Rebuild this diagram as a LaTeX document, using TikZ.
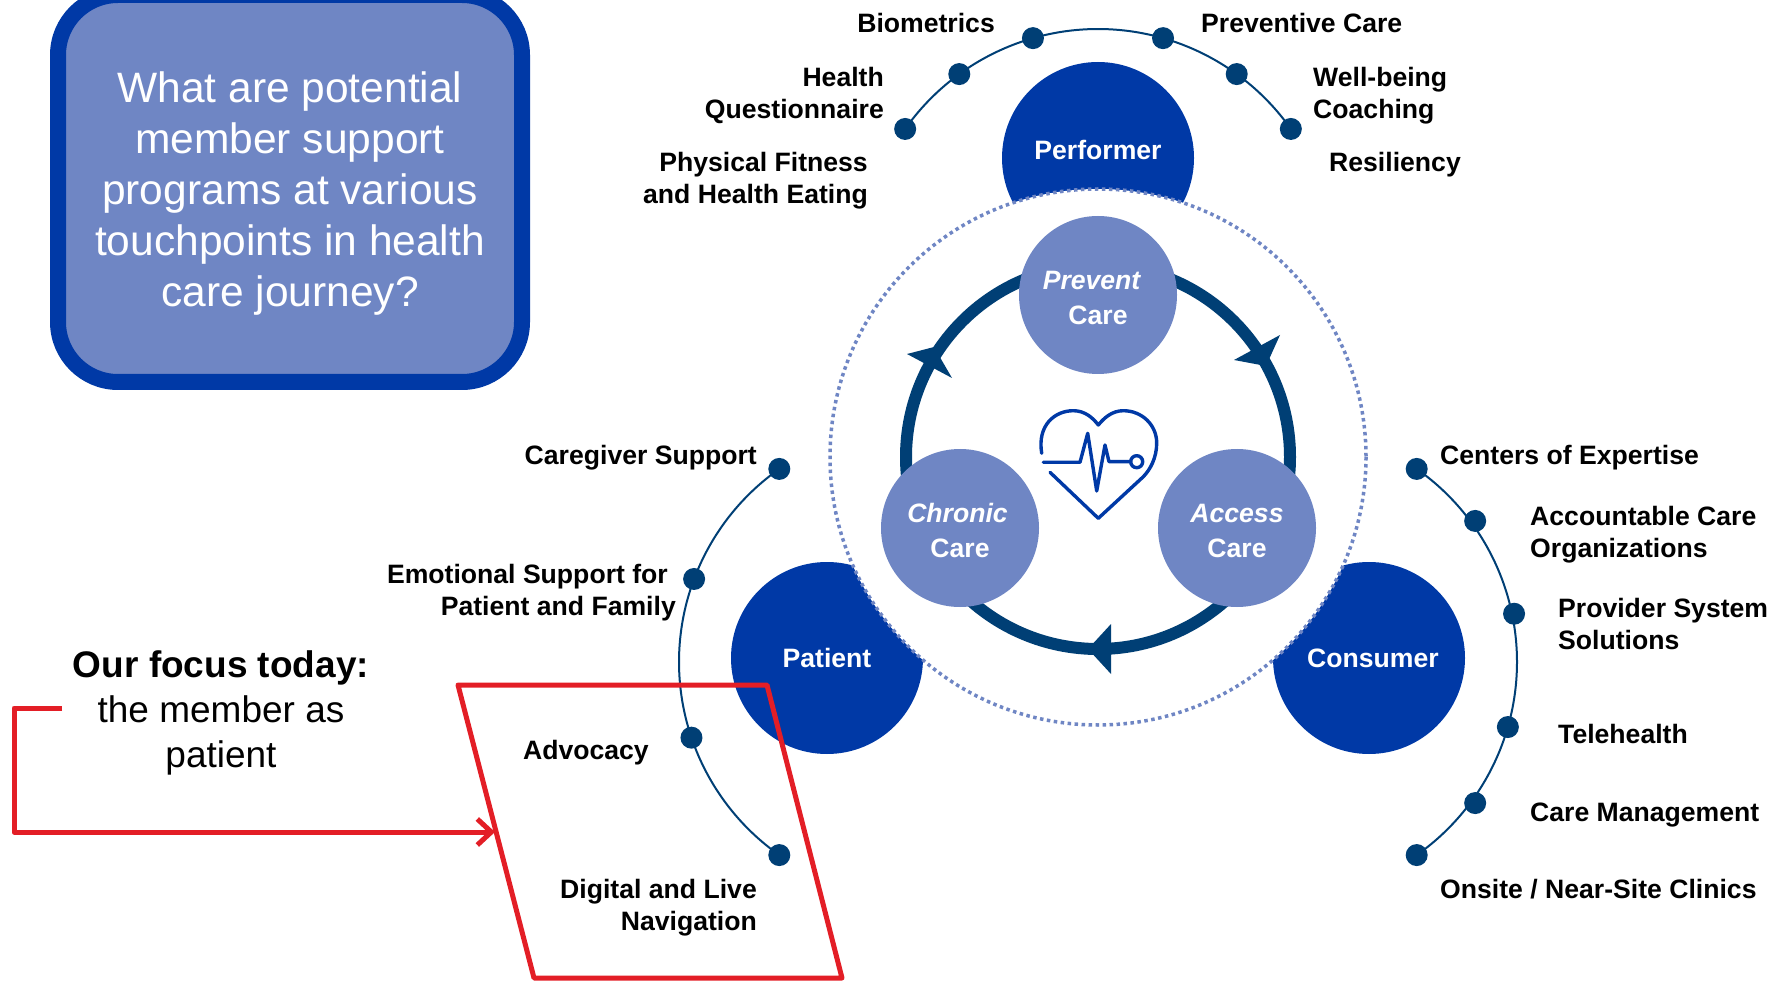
\documentclass[tikz,border=0pt]{standalone}
\usepackage{fontspec}
\setmainfont{Liberation Sans}
\usetikzlibrary{arrows.meta}
\definecolor{lightblue}{HTML}{6F86C4}
\definecolor{royal}{HTML}{0039A6}
\definecolor{navy}{HTML}{003F75}
\definecolor{focusred}{HTML}{E31E26}
\tikzset{
    rolenode/.style={circle,fill=royal,minimum size=192pt,inner sep=0},
    roletext/.style={text=white,inner sep=0,font=\bfseries\fontsize{26.6}{32}\selectfont},
    carenode/.style={circle,fill=lightblue,minimum size=158pt,inner sep=0,text=white,align=center,font=\bfseries\fontsize{26.6}{35}\selectfont},
    dotnode/.style={circle,fill=navy,minimum size=22pt,inner sep=0},
    arcline/.style={draw=navy,line width=2pt},
    ringtip/.style={fill=navy,draw=none},
    heartline/.style={draw=royal,line width=3.4pt,line join=round,line cap=round},
    redline/.style={draw=focusred,line width=5pt},
    lbl/.style={inner sep=0,yshift=-2.5pt,align=#1,font=\bfseries\fontsize{26.6}{32}\selectfont},
    lbl/.default=left
}
\begin{document}
\begin{tikzpicture}[x=1pt,y=-1pt]
    \useasboundingbox (0,0) rectangle (1781,981);
    \coordinate (topc) at (1098,265);
    \coordinate (leftc) at (915,662);
    \coordinate (rightc) at (1281,662);
    \coordinate (midc) at (1098,457);

    \node[rounded corners=60pt,draw=royal,fill=lightblue,line width=16pt,minimum width=464pt,minimum height=387pt,inner sep=0,
        text=white,align=center,font=\fontsize{42.5}{51}\selectfont] (question) at (290,188.5)
        {\rule{0pt}{40pt}What are potential\\member support\\programs at various\\touchpoints in health\\care journey?};

    \node[rolenode] (performer) at (1098,158) {};
    \node[rolenode] (patient) at (827,658) {};
    \node[rolenode] (consumer) at (1369,658) {};
    \fill[white] (midc) circle (268);
    \draw[lightblue,line width=3.5pt,dash pattern=on 3.5pt off 3.5pt] (midc) circle (268);
    \node[roletext] at (1098,150) {Performer};
    \node[roletext] at (827,658) {Patient};
    \node[roletext] at (1373,658) {Consumer};

    \draw[navy,line width=12pt] (midc) circle (192);
    \fill[ringtip] (1088,649) -- (1111,624) -- (1111,674) -- cycle;
    \fill[ringtip] (1266,366) -- (1280,335) -- (1234,360) -- cycle;
    \fill[ringtip] (934,347) -- (907,354) -- (952,378) -- cycle;

    \node[carenode] (prevent) at (1098,295) {\rule{0pt}{25pt}\textit{Prevent}\rule{12pt}{0pt}\\Care};
    \node[carenode] (chronic) at (960,528) {\rule{0pt}{25pt}\textit{Chronic}\rule{5pt}{0pt}\\Care};
    \node[carenode] (access) at (1237,528) {\rule{0pt}{25pt}\textit{Access}\\Care};

    \draw[heartline] (1041.7,453.3) .. controls (1037,425) and (1055,410.7) .. (1073.3,410.7)
        .. controls (1085,410.7) and (1093,418) .. (1098.3,425)
        .. controls (1104,418) and (1112,410.7) .. (1123.3,410.7)
        .. controls (1142,410.7) and (1156.7,425) .. (1156.7,443)
        .. controls (1156.7,458) and (1150,470) .. (1143,477)
        -- (1098.3,518.3) -- (1050,472.3);
    \draw[heartline] (1043.3,462.3) -- (1080,462.3) -- (1087.7,433.3) -- (1096.7,491) -- (1105,445) -- (1109,461.7) -- (1130.7,461.7);
    \draw[heartline] (1136.7,461.7) circle (6);

    \foreach \a/\n in {215.2/fitdot,234/quesdot,254/biodot,286/prevdot,306/welldot,324.8/resdot}
        \node[dotnode] (\n) at ([shift={(\a:236)}]topc) {};
    \foreach \a/\n in {234.9/caredot,200.6/emodot,161.3/advdot,125.1/navdot}
        \node[dotnode] (\n) at ([shift={(\a:236)}]leftc) {};
    \foreach \a/\r/\n in {-54.9/236/centdot,-36/240/acodot,-11.7/238/provdot,16/236/teledot,36/240/mgmtdot,54.9/236/sitedot}
        \node[dotnode] (\n) at ([shift={(\a:\r)}]rightc) {};
    \draw[arcline] (fitdot.center) arc[start angle=215.2,end angle=324.8,radius=236];
    \draw[arcline] (caredot.center) arc[start angle=234.9,end angle=125.1,radius=236];
    \draw[arcline] (centdot.center) arc[start angle=-54.9,end angle=54.9,radius=236];

    \node[lbl=right,anchor=east] (biometrics) at (995,20.5) {Biometrics};
    \node[lbl,anchor=west] (preventive) at (1201,20.5) {Preventive Care};
    \node[lbl=right,anchor=east] (health) at (884,93) {Health\\Questionnaire};
    \node[lbl,anchor=west] (wellbeing) at (1313,93) {Well-being\\Coaching};
    \node[lbl=right,anchor=east] (fitness) at (868,178) {Physical Fitness\\and Health Eating};
    \node[lbl,anchor=west] (resiliency) at (1329,162) {Resiliency};
    \node[lbl=right,anchor=east] (caregiver) at (757,455) {Caregiver Support};
    \node[lbl=right,anchor=east] (emotional) at (676,590) {Emotional Support for\rule{8pt}{0pt}\\Patient and Family};
    \node[lbl=right,anchor=east] (advocacy) at (649,750) {Advocacy};
    \node[lbl=right,anchor=east] (digital) at (757,905) {Digital and Live\\Navigation};
    \node[lbl,anchor=west] (centers) at (1440,455) {Centers of Expertise};
    \node[lbl,anchor=west] (accountable) at (1530,532.5) {Accountable Care\\Organizations};
    \node[lbl,anchor=west] (provider) at (1558,621.6) {Provider System\\Solutions};
    \node[lbl,anchor=west] (telehealth) at (1558,731.6) {Telehealth};
    \node[lbl,anchor=west] (management) at (1530,812.7) {Care Management};
    \node[lbl,anchor=west] (onsite) at (1440,887) {Onsite / Near-Site Clinics};

    \node[inner sep=0,align=center,font=\fontsize{37}{45}\selectfont] (focus) at (221,713)
        {{\bfseries Our focus today:}\\the member as\\patient};

    \coordinate (pa) at (458,685);
    \coordinate (pb) at (767,685);
    \coordinate (pc) at (842,978);
    \coordinate (pd) at (534,978);
    \draw[redline,line join=round] (pa) -- (pb) -- (pc) -- (pd) -- cycle;
    \coordinate (redstart) at (62,708);
    \coordinate (redend) at (495,832);
    \draw[redline,line join=round,-{Straight Barb[length=14pt,width=26pt]}] (redstart) -- (14,708) |- (redend);
\end{tikzpicture}
\end{document}
